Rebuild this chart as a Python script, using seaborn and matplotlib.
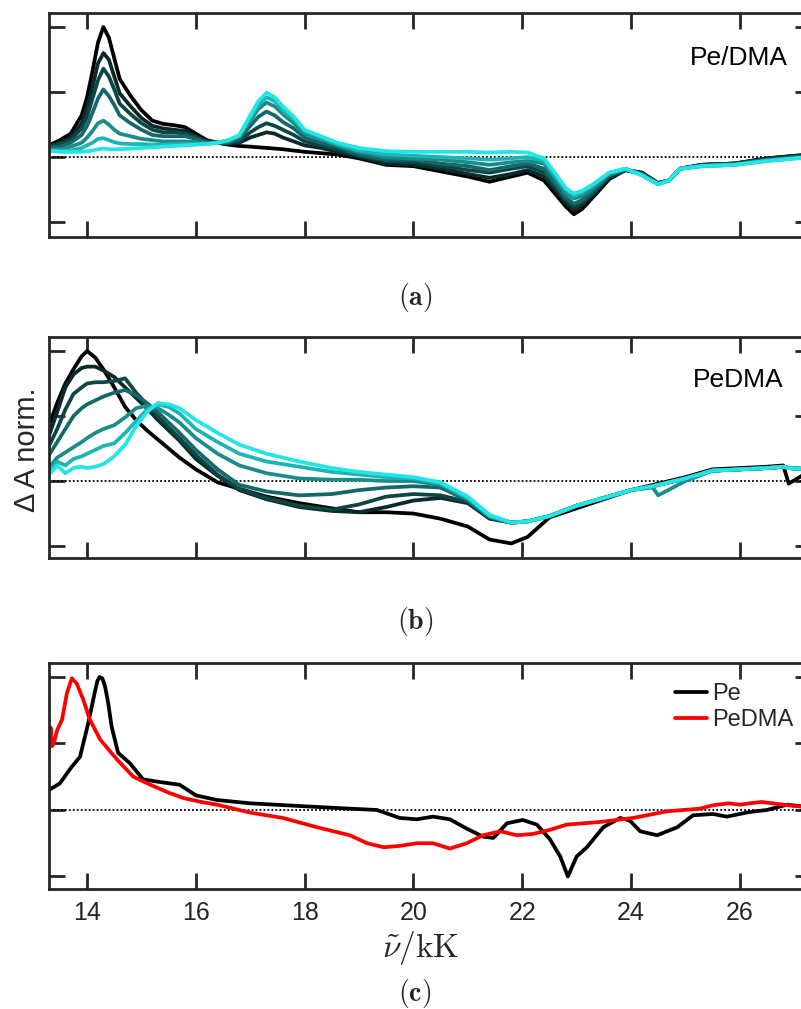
import numpy as np
import pandas as pd
import seaborn as sns
import matplotlib
matplotlib.use("Agg")
import matplotlib.pyplot as plt

# ---------------- data ----------------
xa = [13.3, 13.5, 13.7, 13.9, 14.0, 14.1, 14.2, 14.3, 14.4, 14.5, 14.6, 14.8, 15.0, 15.2, 15.4,
      15.6, 15.8, 16.0, 16.2, 16.4, 16.6, 16.8, 17.0, 17.15, 17.3, 17.45, 17.6, 17.8, 18.0, 18.3,
      18.6, 19.0, 19.5, 20.0, 20.5, 21.0, 21.4, 21.8, 22.1, 22.4, 22.6, 22.8, 22.95, 23.1, 23.3,
      23.6, 23.9, 24.2, 24.5, 24.7, 24.9, 25.3, 25.9, 26.5, 27.3]
a_t0 = [.09, .13, .18, .32, .46, .66, .88, 1.00, .92, .76, .60, .47, .36, .28, .255, .245, .23, .18, .13, .11,
        .095, .085, .08, .075, .07, .065, .06, .05, .04, .03, .02, -.01, -.06, -.07, -.11, -.15, -.19, -.15, -.12,
        -.18, -.28, -.38, -.44, -.40, -.31, -.17, -.10, -.12, -.20, -.18, -.09, -.06, -.05, -.01, .02]
a_t1 = [.08, .11, .15, .26, .38, .54, .72, .80, .75, .62, .49, .39, .30, .24, .22, .21, .20, .16, .12, .11,
        .10, .11, .15, .17, .19, .18, .15, .12, .09, .07, .04, .00, -.05, -.06, -.09, -.13, -.16, -.13, -.10,
        -.15, -.25, -.35, -.41, -.37, -.29, -.16, -.10, -.12, -.20, -.18, -.09, -.06, -.05, -.01, .02]
a_t2 = [.08, .10, .13, .22, .31, .45, .59, .68, .62, .52, .41, .33, .26, .21, .19, .19, .18, .15, .12, .11,
        .11, .12, .19, .23, .26, .24, .21, .17, .12, .09, .06, .01, -.03, -.04, -.07, -.10, -.12, -.09, -.07,
        -.12, -.22, -.33, -.38, -.35, -.28, -.15, -.10, -.13, -.20, -.18, -.09, -.06, -.05, -.02, .01]
a_t3 = [.07, .08, .11, .17, .24, .34, .45, .52, .47, .40, .32, .26, .21, .17, .16, .16, .16, .14, .11, .11,
        .11, .14, .24, .31, .35, .32, .27, .22, .15, .11, .08, .02, -.02, -.02, -.05, -.07, -.10, -.07, -.05,
        -.09, -.20, -.31, -.36, -.33, -.26, -.14, -.095, -.13, -.20, -.18, -.09, -.065, -.055, -.02, .01]
a_t4 = [.06, .06, .08, .11, .15, .20, .26, .28, .25, .21, .18, .16, .14, .13, .12, .12, .12, .115, .11, .11,
        .12, .16, .28, .37, .42, .39, .33, .26, .18, .14, .09, .04, .00, -.01, -.02, -.04, -.06, -.04, -.03,
        -.05, -.16, -.28, -.32, -.30, -.24, -.13, -.09, -.135, -.21, -.18, -.09, -.07, -.06, -.025, .005]
a_t5 = [.05, .05, .05, .07, .09, .11, .14, .145, .13, .115, .105, .10, .10, .095, .095, .10, .10, .10, .10, .11,
        .13, .16, .30, .40, .46, .43, .36, .29, .20, .15, .10, .05, .02, .01, .00, -.01, -.02, -.01, .00,
        -.03, -.14, -.25, -.30, -.27, -.22, -.12, -.09, -.14, -.21, -.18, -.09, -.07, -.06, -.03, .00]
a_t6 = [.05, .04, .04, .04, .045, .05, .06, .065, .06, .06, .06, .065, .07, .075, .08, .085, .09, .095, .10, .11,
        .13, .17, .32, .43, .495, .46, .39, .31, .21, .16, .11, .07, .045, .04, .04, .04, .035, .04, .035,
        -.01, -.12, -.24, -.28, -.26, -.21, -.12, -.09, -.14, -.21, -.18, -.09, -.07, -.06, -.03, .00]

xb = [13.3, 13.45, 13.6, 13.75, 13.9, 14.0, 14.15, 14.3, 14.5, 14.7, 14.9, 15.1, 15.3, 15.5, 15.7, 16.0,
      16.4, 16.8, 17.3, 17.9, 18.5, 19.0, 19.5, 20.0, 20.5, 21.0, 21.4, 21.8, 22.1, 22.5, 23.0, 23.5,
      24.0, 24.4, 24.5, 25.0, 25.5, 26.0, 26.5, 26.8, 26.9, 27.3]
b_t0 = [.43, .60, .75, .86, .96, 1.0, .95, .86, .72, .57, .47, .39, .32, .25, .18, .09, -.01, -.06, -.12, -.17,
        -.21, -.24, -.24, -.25, -.29, -.35, -.45, -.48, -.43, -.28, -.21, -.14, -.07, -.03, -.02, .03, .09, .10,
        .11, .12, -.02, .08]
b_t1 = [.35, .53, .72, .82, .87, .88, .88, .85, .80, .72, .64, .56, .47, .39, .31, .17, .04, -.07, -.14, -.20,
        -.23, -.24, -.20, -.15, -.13, -.17, -.29, -.32, -.31, -.27, -.19, -.13, -.07, -.04, -.03, .02, .08, .09,
        .10, .11, .10, .09]
b_t2 = [.27, .40, .55, .67, .72, .75, .76, .76, .77, .79, .68, .59, .50, .41, .33, .20, .05, -.06, -.13, -.19,
        -.22, -.18, -.12, -.10, -.11, -.16, -.28, -.32, -.31, -.27, -.19, -.13, -.07, -.04, -.03, .02, .08, .09,
        .10, .11, .10, .09]
b_t3 = [.20, .30, .40, .50, .56, .59, .62, .65, .68, .70, .66, .60, .53, .45, .37, .24, .09, -.03, -.08, -.11,
        -.10, -.07, -.05, -.04, -.05, -.15, -.28, -.32, -.31, -.27, -.19, -.13, -.07, -.04, -.03, .02, .08, .09,
        .10, .11, .10, .09]
b_t4 = [.10, .18, .22, .26, .30, .33, .37, .40, .43, .49, .56, .58, .56, .51, .45, .33, .21, .12, .06, .02,
        .01, .01, .00, .00, -.03, -.14, -.27, -.32, -.31, -.27, -.19, -.13, -.07, -.05, -.11, .00, .08, .09,
        .10, .11, .10, .09]
b_t5 = [.08, .15, .12, .17, .19, .21, .24, .27, .29, .37, .46, .55, .59, .57, .52, .40, .30, .21, .15, .11,
        .07, .05, .03, .02, -.02, -.13, -.27, -.32, -.31, -.27, -.19, -.13, -.07, -.04, -.03, .02, .08, .09,
        .10, .11, .10, .09]
b_t6 = [.05, .12, .06, .10, .11, .10, .11, .13, .19, .28, .42, .53, .60, .59, .56, .47, .37, .28, .21, .15,
        .10, .07, .05, .03, -.01, -.12, -.26, -.32, -.31, -.27, -.19, -.13, -.07, -.04, -.03, .02, .08, .09,
        .10, .11, .10, .09]

pe_x = [13.3, 13.5, 13.69, 13.87, 14.02, 14.15, 14.19, 14.23, 14.28, 14.33, 14.39, 14.45, 14.57, 14.79, 15.03,
        15.34, 15.7, 16.0, 16.39, 17.0, 17.9, 18.83, 19.33, 19.75, 20.06, 20.36, 20.67, 20.98, 21.28, 21.47,
        21.72, 22.01, 22.27, 22.51, 22.7, 22.84, 23.0, 23.19, 23.49, 23.8, 23.98, 24.17, 24.48, 24.85, 25.14,
        25.51, 25.76, 26.18, 26.5, 26.87, 27.3]
pe_y = [0.15, 0.20, 0.31, 0.40, 0.65, 0.90, 0.97, 1.0, 0.99, 0.93, 0.80, 0.63, 0.43, 0.35, 0.23, 0.21, 0.19,
        0.11, 0.075, 0.05, 0.03, 0.01, 0.0, -0.06, -0.07, -0.05, -0.07, -0.14, -0.20, -0.21, -0.10, -0.075,
        -0.11, -0.22, -0.35, -0.50, -0.35, -0.28, -0.13, -0.06, -0.08, -0.16, -0.19, -0.13, -0.04, -0.03,
        -0.05, -0.015, 0.0, 0.04, 0.02]
red_x = [13.3, 13.33, 13.36, 13.4, 13.45, 13.54, 13.63, 13.72, 13.81, 13.93, 14.05, 14.24, 14.55, 14.85, 15.16,
         15.5, 15.77, 16.1, 16.39, 17.0, 17.6, 18.23, 18.83, 19.15, 19.45, 19.75, 20.06, 20.36, 20.67, 20.98,
         21.28, 21.6, 21.9, 22.2, 22.5, 22.82, 23.43, 24.04, 24.66, 25.27, 25.45, 25.58, 25.8, 26.0, 26.18,
         26.4, 26.8, 27.0, 27.3]
red_y = [0.45, 0.62, 0.48, 0.52, 0.60, 0.68, 0.88, 0.99, 0.95, 0.83, 0.68, 0.53, 0.38, 0.25, 0.19, 0.13, 0.09,
         0.06, 0.04, -0.02, -0.06, -0.13, -0.19, -0.25, -0.28, -0.27, -0.25, -0.25, -0.29, -0.25, -0.19, -0.16,
         -0.19, -0.18, -0.15, -0.11, -0.09, -0.06, -0.01, 0.01, 0.03, 0.04, 0.05, 0.04, 0.05, 0.06, 0.04, 0.03,
         0.02]

x_ticks = [14, 16, 18, 20, 22, 24, 26]
x_ticklabels = ["14", "16", "18", "20", "22", "24", "26"]
trace_colors = ["#000000", "#0b2b2b", "#0e4545", "#146868", "#1a8c8c", "#1fb4b4", "#22e6e6"]
series_names = ["t0", "t1", "t2", "t3", "t4", "t5", "t6"]

# ---------------- style ----------------
sns.set_style("ticks")
plt.rcParams["font.family"] = ["Liberation Sans", "DejaVu Sans"]
plt.rcParams["mathtext.fontset"] = "cm"
ink = "#262626"

fig = plt.figure(figsize=(8.01, 10.09), dpi=100)
L, W = 49 / 801, 762 / 801
ax_a = fig.add_axes([L, 1 - 237 / 1009, W, 224 / 1009])
ax_b = fig.add_axes([L, 1 - 558 / 1009, W, 221 / 1009])
ax_c = fig.add_axes([L, 1 - 889 / 1009, W, 226 / 1009])


def long_frame(x, series):
    rows = []
    for name, ys in zip(series_names, series):
        rows.append(pd.DataFrame({"x": x, "y": ys, "trace": name}))
    return pd.concat(rows, ignore_index=True)


df_a = long_frame(xa, [a_t0, a_t1, a_t2, a_t3, a_t4, a_t5, a_t6])
df_b = long_frame(xb, [b_t0, b_t1, b_t2, b_t3, b_t4, b_t5, b_t6])
pal = dict(zip(series_names, trace_colors))

for ax, df in [(ax_a, df_a), (ax_b, df_b)]:
    ax.axhline(0, color="k", ls=(0, (1, 1.2)), lw=1.3, zorder=1)
    sns.lineplot(data=df, x="x", y="y", hue="trace", palette=pal, estimator=None,
                 sort=False, lw=2.7, legend=False, ax=ax, zorder=2)

df_c = pd.concat([pd.DataFrame({"x": pe_x, "y": pe_y, "s": "Pe"}),
                  pd.DataFrame({"x": red_x, "y": red_y, "s": "PeDMA"})], ignore_index=True)
ax_c.axhline(0, color="k", ls=(0, (1, 1.2)), lw=1.3, zorder=1)
sns.lineplot(data=df_c, x="x", y="y", hue="s", palette={"Pe": "#000000", "PeDMA": "#ff0000"},
             estimator=None, sort=False, lw=2.7, ax=ax_c, zorder=2)
h, l = ax_c.get_legend_handles_labels()
ax_c.legend(h, l, loc="upper left", bbox_to_anchor=(0.822, 0.91), frameon=False,
            handlelength=1.35, handletextpad=0.2, labelspacing=0.15, borderpad=0,
            borderaxespad=0, fontsize=17)

ylims = [(-0.615, 1.108), (-0.592, 1.108), (-0.594, 1.105)]
for ax, yl in zip([ax_a, ax_b, ax_c], ylims):
    ax.set_xlim(13.3, 27.31)
    ax.set_ylim(*yl)
    ax.set_xticks(x_ticks)
    ax.set_yticks([-0.5, 0, 0.5, 1.0])
    ax.set_yticklabels([])
    ax.set_xlabel("")
    ax.set_ylabel("")
    ax.tick_params(direction="in", top=True, right=True, length=11.5, width=2,
                   colors=ink, labelsize=18, pad=9)
    for sp in ax.spines.values():
        sp.set_visible(True)
        sp.set_linewidth(2)
        sp.set_color(ink)
ax_a.tick_params(labelbottom=False)
ax_b.tick_params(labelbottom=False)
ax_c.set_xticklabels(x_ticklabels)

ax_a.text(0.905, 0.80, "Pe/DMA", transform=ax_a.transAxes, ha="center", va="center",
          fontsize=19, color="k")
ax_b.text(0.905, 0.805, "PeDMA", transform=ax_b.transAxes, ha="center", va="center",
          fontsize=19, color="k")

fig.text(0.034, 1 - 450 / 1009, "Δ A norm.", rotation=90, ha="center", va="center", fontsize=21, color=ink)
fig.text(0.5246, 1 - 957 / 1009, r"$\tilde{\nu}/\mathrm{kK}$", ha="center", va="baseline",
         fontsize=24, color=ink)
fig.text(0.518, 1 - 297 / 1009, r"$(\mathbf{a})$", ha="center", va="center", fontsize=20)
fig.text(0.518, 1 - 622 / 1009, r"$(\mathbf{b})$", ha="center", va="center", fontsize=20)
fig.text(0.518, 1 - 993 / 1009, r"$(\mathbf{c})$", ha="center", va="center", fontsize=20)

fig.savefig("out.png", dpi=100)
